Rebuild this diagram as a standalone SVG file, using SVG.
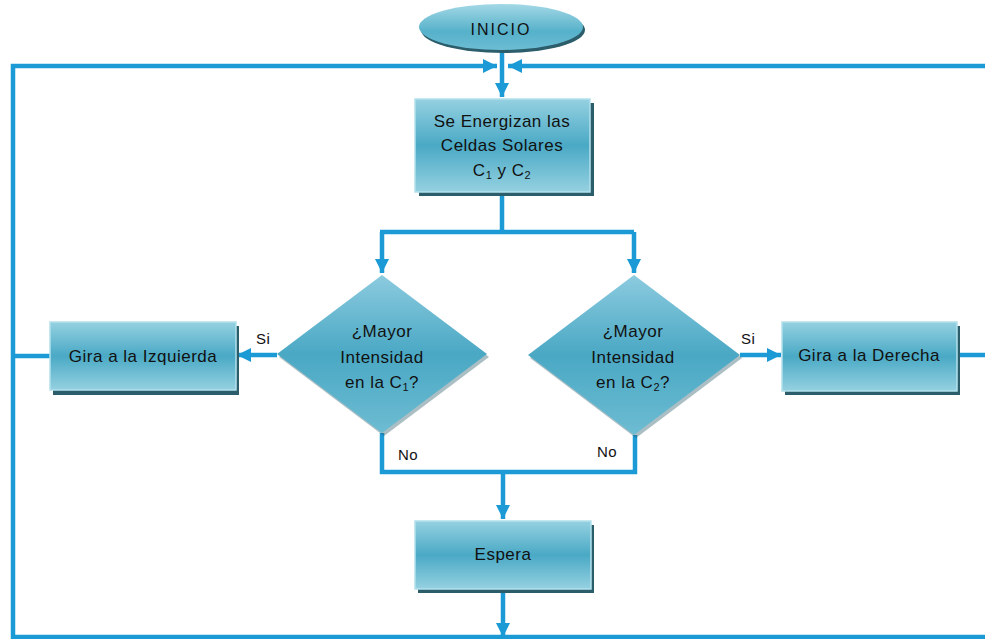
<svg xmlns="http://www.w3.org/2000/svg" width="985" height="639" viewBox="0 0 985 639">
<defs>
<linearGradient id="gBox" x1="0" y1="0" x2="0" y2="1">
<stop offset="0" stop-color="#95d1e1"/>
<stop offset="0.5" stop-color="#4aa9c5"/>
<stop offset="1" stop-color="#95d1e1"/>
</linearGradient>
<linearGradient id="gDia" x1="0" y1="0" x2="0" y2="1">
<stop offset="0" stop-color="#8ccbdf"/>
<stop offset="0.5" stop-color="#4aa8c4"/>
<stop offset="1" stop-color="#6dbcd2"/>
</linearGradient>
<linearGradient id="gEll" x1="0" y1="0" x2="0" y2="1">
<stop offset="0" stop-color="#a3d8e6"/>
<stop offset="0.6" stop-color="#56b1ca"/>
<stop offset="1" stop-color="#6cbdd3"/>
</linearGradient>
<marker id="arr" markerUnits="userSpaceOnUse" markerWidth="18" markerHeight="18" viewBox="0 0 18 18" refX="16" refY="9" orient="auto">
<path d="M2,2 L16,9 L2,16 Z" fill="#1b9ad6"/>
</marker>
</defs>
<style>
.ln{fill:none;stroke:#1b9ad6;stroke-width:4.5;}
.box{fill:url(#gBox);stroke:#b3e1ec;stroke-width:1.5;}
.sh{fill:#2b5d6b;}
.dia{fill:url(#gDia);}
.t{font-family:"Liberation Sans",Arial,sans-serif;font-size:17px;fill:#111;text-anchor:middle;letter-spacing:0.5px;}
.lbl{font-family:"Liberation Sans",Arial,sans-serif;font-size:15px;fill:#111;letter-spacing:0.5px;}
.sub{font-size:11px;}
</style>
<rect width="985" height="639" fill="#ffffff"/>

<g id="connectors">
<path class="ln" d="M502,50 V97" marker-end="url(#arr)"/>
<path class="ln" d="M985,637 H13 V66 H497" marker-end="url(#arr)"/>
<path class="ln" d="M985,66 H508" marker-end="url(#arr)"/>
<path class="ln" d="M50,356 H13"/>
<path class="ln" d="M957,355 H985"/>
<path class="ln" d="M502,193 V232"/>
<path class="ln" d="M380,232 H634"/>
<path class="ln" d="M382,232 V273" marker-end="url(#arr)"/>
<path class="ln" d="M634,232 V273" marker-end="url(#arr)"/>
<path class="ln" d="M277,355 H237" marker-end="url(#arr)"/>
<path class="ln" d="M740,355 H781" marker-end="url(#arr)"/>
<path class="ln" d="M382,433 V472 H635 V435"/>
<path class="ln" d="M503,472 V519" marker-end="url(#arr)"/>
<path class="ln" d="M503,592 V637" marker-end="url(#arr)"/>
</g>

<g id="inicio">
<ellipse cx="503" cy="30" rx="82" ry="23" fill="#2b5d6b"/>
<ellipse cx="501" cy="27" rx="82" ry="23" fill="url(#gEll)"/>
<text class="t" x="501" y="35" style="font-size:16px;letter-spacing:2px">INICIO</text>
</g>

<g id="energizan">
<rect class="sh" x="419" y="103" width="175" height="93"/>
<rect class="box" x="415" y="99" width="175" height="93"/>
<text class="t" x="502" y="127">Se Energizan las</text>
<text class="t" x="502" y="151">Celdas Solares</text>
<text class="t" x="502" y="176">C<tspan class="sub" dy="3">1</tspan><tspan dy="-3"> y C</tspan><tspan class="sub" dy="3">2</tspan></text>
</g>

<g id="decision1">
<polygon class="sh" points="384,278 489,357 384,436 279,357" opacity="0.4"/>
<polygon class="dia" points="382,275 487,354 382,433 277,354"/>
<text class="t" x="382" y="337">¿Mayor</text>
<text class="t" x="382" y="363">Intensidad</text>
<text class="t" x="382" y="388">en la C<tspan class="sub" dy="3">1</tspan><tspan dy="-3">?</tspan></text>
</g>

<g id="decision2">
<polygon class="sh" points="636,278 742,358 636,438 530,358" opacity="0.4"/>
<polygon class="dia" points="634,275 740,355 634,435 528,355"/>
<text class="t" x="633" y="337">¿Mayor</text>
<text class="t" x="633" y="363">Intensidad</text>
<text class="t" x="633" y="388">en la C<tspan class="sub" dy="3">2</tspan><tspan dy="-3">?</tspan></text>
</g>

<g id="izquierda">
<rect class="sh" x="53" y="326" width="186" height="69"/>
<rect class="box" x="50" y="322" width="186" height="68"/>
<text class="t" x="143" y="362">Gira a la Izquierda</text>
</g>

<g id="derecha">
<rect class="sh" x="785" y="326" width="175" height="69"/>
<rect class="box" x="782" y="322" width="175" height="69"/>
<text class="t" x="869" y="361">Gira a la Derecha</text>
</g>

<g id="espera">
<rect class="sh" x="418" y="525" width="176" height="68"/>
<rect class="box" x="415" y="521" width="176" height="68"/>
<text class="t" x="503" y="560">Espera</text>
</g>

<g id="labels">
<text class="lbl" x="256" y="344">Si</text>
<text class="lbl" x="741" y="344">Si</text>
<text class="lbl" x="398" y="460">No</text>
<text class="lbl" x="597" y="457">No</text>
</g>
</svg>
